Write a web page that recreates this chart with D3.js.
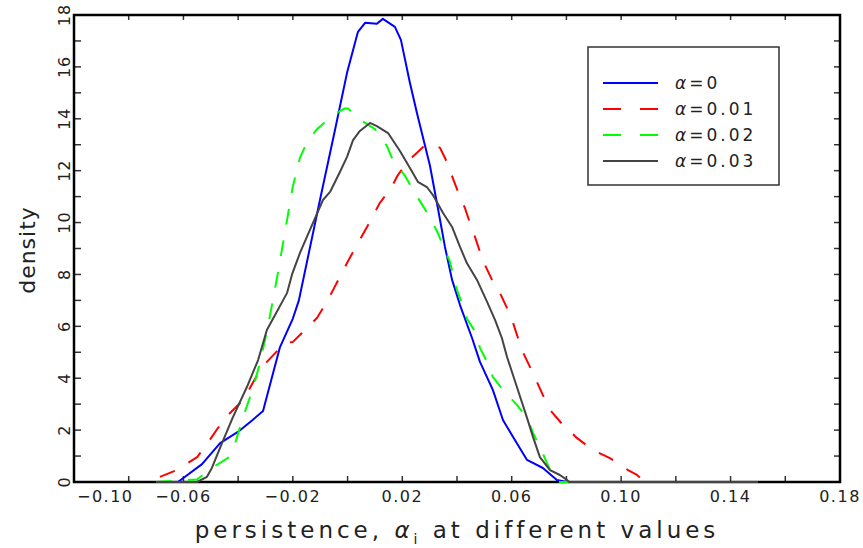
<!DOCTYPE html>
<html>
<head>
<meta charset="utf-8">
<script src="https://cdn.jsdelivr.net/npm/d3@7"></script>
<style>
  body { margin: 0; background: #fff; }
  text { font-family: "DejaVu Sans", sans-serif; fill: #222; }
</style>
</head>
<body>
<svg id="chart" width="863" height="548"></svg>
<script>
// density curves, [persistence, density]
const alpha0 = [
  [-0.070, 0], [-0.062, 0], [-0.0532, 0.69], [-0.0466, 1.50], [-0.0401, 1.93], [-0.0346, 2.40],
  [-0.0309, 2.74], [-0.0295, 3.30], [-0.0247, 5.20], [-0.0200, 6.30], [-0.0178, 7.00],
  [-0.0101, 10.87], [-0.0046, 13.57], [-0.0002, 15.77], [0.0038, 17.35], [0.0064, 17.70],
  [0.0107, 17.66], [0.0129, 17.85], [0.0173, 17.54], [0.0195, 17.04], [0.0228, 15.38],
  [0.0254, 14.20], [0.0301, 12.20], [0.0330, 10.56], [0.0356, 9.06], [0.0382, 7.79],
  [0.0411, 6.82], [0.0455, 5.55], [0.0484, 4.63], [0.0531, 3.55], [0.0568, 2.39],
  [0.0605, 1.73], [0.0656, 0.85], [0.0714, 0.54], [0.0765, 0.08], [0.0802, 0], [0.150, 0]
]
const alpha001 = [
  [-0.0686, 0.20], [-0.0624, 0.46], [-0.0550, 0.96], [-0.0514, 1.46], [-0.0474, 2.08],
  [-0.0437, 2.58], [-0.0382, 3.16], [-0.0357, 3.62], [-0.0320, 4.32], [-0.0295, 4.63],
  [-0.0229, 5.36], [-0.0200, 5.40], [-0.0167, 5.74], [-0.0112, 6.32], [-0.0094, 6.63],
  [-0.0057, 7.32], [-0.0002, 8.44], [0.0034, 9.14], [0.0071, 9.83], [0.0118, 10.76],
  [0.0155, 11.26], [0.0184, 11.83], [0.0221, 12.37], [0.0276, 12.91], [0.0308, 13.03],
  [0.0338, 12.88], [0.0367, 12.25], [0.0385, 11.70], [0.0404, 11.18], [0.0429, 10.56],
  [0.0447, 10.00], [0.0466, 9.44], [0.0484, 8.87], [0.0502, 8.37], [0.0528, 7.79],
  [0.0557, 7.29], [0.0583, 6.70], [0.0605, 6.13], [0.0623, 5.55], [0.0641, 5.00],
  [0.0667, 4.43], [0.0692, 3.86], [0.0714, 3.35], [0.0740, 2.78], [0.0787, 2.20],
  [0.0838, 1.70], [0.0897, 1.23], [0.0959, 0.92], [0.1025, 0.46], [0.1058, 0.27],
  [0.1087, 0], [0.150, 0]
]
const alpha002 = [
  [-0.070, 0], [-0.0550, 0.10], [-0.0496, 0.54], [-0.0437, 0.93], [-0.0412, 1.46],
  [-0.0382, 2.50], [-0.0346, 3.60], [-0.0320, 4.60], [-0.0295, 5.80], [-0.0273, 7.00],
  [-0.0254, 8.10], [-0.0236, 9.20], [-0.0218, 10.30], [-0.0200, 11.40], [-0.0174, 12.50],
  [-0.0148, 13.10], [-0.0112, 13.60], [-0.0053, 14.15], [-0.0010, 14.40], [0.0001, 14.40],
  [0.0056, 13.90], [0.0100, 13.60], [0.0144, 12.95], [0.0166, 12.40], [0.0210, 11.80],
  [0.0239, 11.26], [0.0272, 10.70], [0.0301, 10.20], [0.0330, 9.60], [0.0349, 9.10],
  [0.0374, 8.50], [0.0400, 7.40], [0.0418, 6.90], [0.0436, 6.30], [0.0466, 5.80],
  [0.0484, 5.17], [0.0510, 4.63], [0.0531, 4.05], [0.0568, 3.55], [0.0619, 2.97],
  [0.0656, 2.47], [0.0678, 1.89], [0.0703, 1.35], [0.0729, 0.73], [0.0751, 0.19],
  [0.0776, 0], [0.150, 0]
]
const alpha003 = [
  [-0.070, 0], [-0.0550, 0], [-0.0514, 0.20], [-0.0496, 0.54], [-0.0459, 1.50],
  [-0.0419, 2.50], [-0.0368, 3.66], [-0.0327, 4.70], [-0.0295, 5.86], [-0.0265, 6.44],
  [-0.0236, 7.00], [-0.0221, 7.29], [-0.0203, 8.00], [-0.0174, 8.83], [-0.0126, 10.00],
  [-0.0090, 10.87], [-0.0064, 11.18], [-0.0028, 11.95], [-0.0002, 12.53], [0.0020, 13.18],
  [0.0045, 13.53], [0.0082, 13.84], [0.0107, 13.72], [0.0148, 13.45], [0.0192, 12.75],
  [0.0228, 12.10], [0.0257, 11.57], [0.0290, 11.37], [0.0312, 11.06], [0.0349, 10.37],
  [0.0382, 9.83], [0.0411, 9.06], [0.0436, 8.44], [0.0473, 7.79], [0.0510, 6.94],
  [0.0539, 6.25], [0.0564, 5.55], [0.0583, 4.82], [0.0619, 3.66], [0.0656, 2.47],
  [0.0678, 1.73], [0.0703, 0.96], [0.0740, 0.46], [0.0776, 0.27], [0.0802, 0.08],
  [0.0810, 0], [0.150, 0]
]

const seriesData = [alpha0, alpha001, alpha002, alpha003]
const seriesLabels = ["0", "0.01", "0.02", "0.03"]
const seriesColors = ["#0000ff", "#ff0000", "#00ff00", "#444444"]
const seriesDashed = [false, true, true, false]

const xLabelTicks = [-0.10, -0.06, -0.02, 0.02, 0.06, 0.10, 0.14, 0.18]
const xMinorTicks = d3.range(15).map(i => -0.10 + i * 0.02)
const yLabelTicks = d3.range(0, 19, 2)
const yMinorTicks = d3.range(0, 19, 1)

const frame = { left: 74, right: 840, top: 15, bottom: 482 }

const svg = d3.select("#chart")

const x = d3.scaleLinear().domain([-0.10, 0.18]).range([frame.left, frame.right])
const y = d3.scaleLinear().domain([0, 18]).range([frame.bottom, frame.top])
const fmt = d3.format(".2f")

// ticks, all pointing inwards
const ticks = svg.append("g").attr("stroke", "#333").attr("stroke-width", 1.5)
ticks.selectAll(".tb").data(xMinorTicks).join("line")
  .attr("x1", d => x(d)).attr("x2", d => x(d))
  .attr("y1", frame.bottom).attr("y2", frame.bottom - 6)
ticks.selectAll(".tt").data(xMinorTicks).join("line")
  .attr("x1", d => x(d)).attr("x2", d => x(d))
  .attr("y1", frame.top).attr("y2", frame.top + 5)
ticks.selectAll(".tl").data(yMinorTicks).join("line")
  .attr("x1", frame.left).attr("x2", frame.left + 7)
  .attr("y1", d => y(d)).attr("y2", d => y(d))
ticks.selectAll(".tr").data(yMinorTicks).join("line")
  .attr("x1", frame.right).attr("x2", frame.right - 6)
  .attr("y1", d => y(d)).attr("y2", d => y(d))

svg.append("rect")
  .attr("x", frame.left).attr("y", frame.top)
  .attr("width", frame.right - frame.left)
  .attr("height", frame.bottom - frame.top)
  .attr("fill", "none")
  .attr("stroke", "#000")
  .attr("stroke-width", 2.5)

// tick labels
svg.append("g").selectAll("text").data(xLabelTicks).join("text")
  .attr("x", (d, i) => i === 0 ? x(d) + 3 : x(d))
  .attr("y", 502)
  .attr("text-anchor", (d, i) => i === 0 ? "start" : "middle")
  .style("font-size", "16px")
  .style("letter-spacing", "1.5px")
  .text(d => fmt(d))

svg.append("g").selectAll("text").data(yLabelTicks).join("text")
  .attr("transform", d => `translate(70,${y(d)}) rotate(-90)`)
  .attr("text-anchor", "middle")
  .style("font-size", "16px")
  .style("letter-spacing", "1px")
  .text(d => d)

// axis titles
svg.append("text")
  .attr("transform", "translate(35,250) rotate(-90)")
  .attr("text-anchor", "middle")
  .style("font-size", "22px")
  .style("letter-spacing", "1px")
  .text("density")

const xTitle = svg.append("text")
  .attr("x", 457).attr("y", 538)
  .attr("text-anchor", "middle")
  .style("font-size", "23px")
  .style("letter-spacing", "4px")
xTitle.append("tspan").text("persistence, ")
xTitle.append("tspan").style("font-style", "italic").text("α")
xTitle.append("tspan").attr("dy", 6).style("font-size", "14px").text("i")
xTitle.append("tspan").attr("dy", -6).text(" at different values")

// curves
const line = d3.line()
  .x(d => x(d[0]))
  .y(d => y(d[1]))

svg.append("g").selectAll("path").data(seriesData).join("path")
  .attr("fill", "none")
  .attr("stroke", (d, i) => seriesColors[i])
  .attr("stroke-width", 2)
  .attr("stroke-dasharray", (d, i) => seriesDashed[i] ? "16,16" : null)
  .attr("stroke-linejoin", "round")
  .attr("d", line)

// legend
const legend = svg.append("g")
legend.append("rect")
  .attr("x", 588).attr("y", 47)
  .attr("width", 191).attr("height", 138)
  .attr("fill", "#fff")
  .attr("stroke", "#333")
  .attr("stroke-width", 1.5)

const rows = legend.selectAll("g.row").data(seriesLabels).join("g")
  .attr("class", "row")
  .attr("transform", (d, i) => `translate(0,${83 + i * 26})`)
rows.append("line")
  .attr("x1", 603).attr("x2", 658)
  .attr("stroke", (d, i) => seriesColors[i])
  .attr("stroke-width", 2)
  .attr("stroke-dasharray", (d, i) => seriesDashed[i] ? "18,19" : null)
const rowText = rows.append("text")
  .attr("x", 675).attr("y", 6)
  .style("font-size", "17px")
  .style("letter-spacing", "3px")
rowText.append("tspan").style("font-style", "italic").text("α")
rowText.append("tspan").text(d => "=" + d)
</script>
</body>
</html>
